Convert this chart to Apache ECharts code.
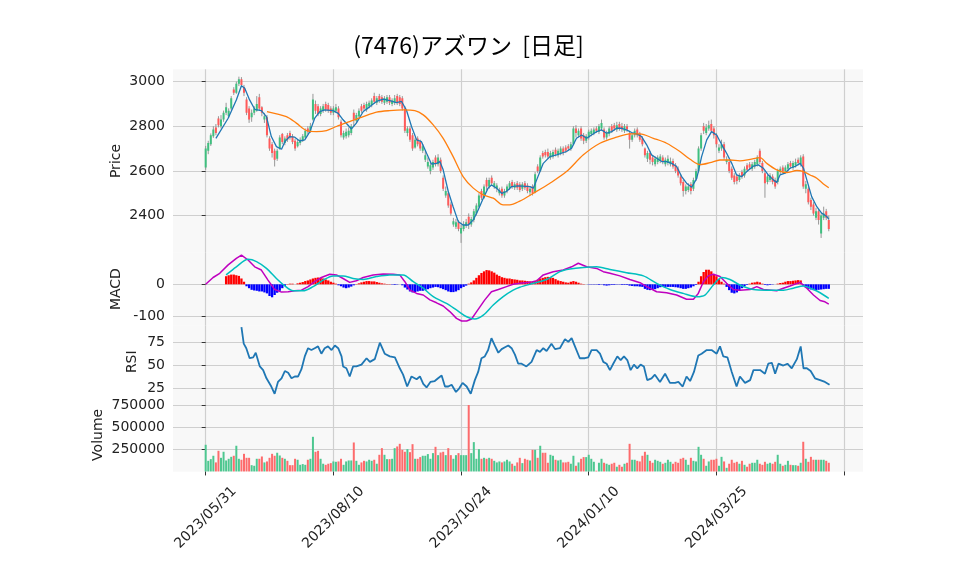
<!DOCTYPE html>
<html><head><meta charset="utf-8">
<script src="https://cdn.jsdelivr.net/npm/echarts@6/dist/echarts.min.js"></script>
<style>html,body{margin:0;padding:0;background:#fff}#c{width:958px;height:575px}</style>
</head><body><div id="c"></div>
<script>
// ---- data ----
const titleText = '(7476)アズワン  [日足]';
const tickPos = [0, 50, 100, 150, 200, 250];
const tickLabels = ['2023/05/31', '2023/08/10', '2023/10/24', '2024/01/10', '2024/03/25', ''];

const opens = [
2615,2690,2720,2755,2795,2835,2800,2830,2860,2845,
2880,2965,2950,2990,3010,2975,2920,2880,2840,2860,
2870,2930,2885,2830,2840,2745,2720,2690,2655,2700,
2765,2725,2760,2770,2755,2735,2710,2725,2735,2750,
2790,2780,2830,2900,2890,2855,2870,2900,2895,2880,
2860,2870,2880,2820,2750,2755,2760,2770,2860,2825,
2845,2890,2895,2875,2890,2895,2935,2905,2935,2930,
2905,2910,2930,2900,2905,2935,2930,2925,2880,2770,
2790,2760,2705,2745,2730,2690,2650,2620,2600,2615,
2660,2630,2650,2570,2490,2500,2450,2360,2350,2370,
2320,2340,2355,2395,2360,2380,2410,2440,2510,2480,
2560,2530,2570,2530,2520,2500,2520,2490,2510,2525,
2550,2525,2545,2540,2520,2545,2535,2505,2530,2505,
2620,2600,2680,2685,2685,2660,2665,2695,2670,2680,
2700,2705,2710,2700,2720,2790,2760,2790,2760,2735,
2750,2765,2770,2790,2775,2790,2785,2750,2765,2800,
2805,2785,2810,2800,2780,2800,2770,2740,2760,2785,
2765,2745,2700,2655,2680,2660,2630,2640,2645,2660,
2630,2635,2630,2645,2625,2610,2575,2550,2510,2515,
2540,2520,2565,2600,2700,2800,2770,2790,2810,2790,
2760,2690,2700,2720,2640,2640,2610,2580,2575,2560,
2595,2580,2625,2630,2610,2620,2630,2690,2635,2590,
2550,2560,2575,2560,2550,2595,2615,2600,2610,2635,
2615,2625,2650,2630,2665,2520,2520,2470,2450,2390,
2420,2320,2390,2420,2380];
const closes = [
2700,2725,2760,2785,2770,2805,2830,2860,2885,2870,
2925,2950,2990,3010,2985,2950,2860,2830,2860,2880,
2900,2880,2860,2845,2760,2700,2680,2650,2690,2750,
2730,2745,2740,2750,2730,2700,2730,2740,2755,2780,
2775,2800,2920,2870,2855,2880,2890,2875,2870,2860,
2880,2885,2840,2760,2770,2775,2780,2800,2830,2850,
2870,2870,2880,2900,2905,2915,2910,2925,2915,2910,
2925,2930,2905,2915,2925,2905,2900,2880,2780,2790,
2740,2700,2740,2720,2700,2710,2670,2640,2625,2640,
2630,2660,2600,2520,2510,2445,2410,2375,2370,2340,
2345,2360,2370,2360,2385,2420,2445,2490,2480,2530,
2530,2560,2545,2545,2535,2515,2490,2510,2530,2545,
2530,2540,2525,2515,2540,2525,2510,2520,2500,2585,
2600,2660,2665,2670,2665,2680,2685,2675,2690,2700,
2680,2690,2700,2720,2790,2770,2780,2745,2735,2755,
2775,2780,2785,2780,2800,2815,2750,2770,2790,2780,
2790,2805,2790,2785,2800,2785,2740,2760,2780,2760,
2740,2720,2670,2680,2650,2640,2655,2660,2665,2640,
2650,2655,2645,2620,2600,2580,2545,2510,2530,2530,
2510,2560,2600,2700,2760,2780,2795,2805,2780,2760,
2720,2705,2720,2660,2650,2600,2570,2550,2555,2580,
2575,2610,2605,2615,2630,2640,2660,2640,2600,2545,
2575,2580,2550,2530,2600,2610,2600,2615,2630,2620,
2635,2640,2635,2660,2530,2540,2460,2440,2410,2420,
2380,2400,2410,2390,2340];
const lows = [
2605,2675,2712,2748,2760,2795,2790,2820,2850,2838,
2872,2940,2945,2980,2975,2935,2850,2815,2820,2850,
2865,2870,2845,2815,2750,2690,2660,2620,2645,2695,
2720,2715,2730,2740,2720,2690,2705,2715,2730,2745,
2765,2770,2825,2855,2845,2845,2860,2865,2860,2850,
2850,2860,2830,2750,2740,2745,2750,2760,2800,2815,
2840,2860,2870,2865,2880,2885,2900,2895,2905,2900,
2895,2900,2895,2890,2895,2895,2890,2870,2770,2755,
2730,2690,2700,2710,2690,2680,2640,2610,2585,2605,
2620,2620,2590,2510,2480,2435,2400,2350,2340,2330,
2278,2330,2345,2340,2350,2370,2400,2435,2470,2475,
2515,2520,2535,2520,2505,2490,2480,2480,2500,2515,
2520,2515,2515,2505,2510,2515,2500,2490,2490,2500,
2590,2595,2655,2660,2655,2650,2655,2665,2660,2670,
2670,2680,2690,2690,2715,2750,2750,2735,2720,2725,
2740,2755,2760,2770,2765,2780,2740,2740,2755,2770,
2780,2775,2780,2775,2770,2775,2700,2730,2750,2750,
2730,2710,2660,2640,2630,2625,2620,2630,2635,2630,
2620,2625,2620,2610,2590,2570,2535,2485,2495,2505,
2495,2510,2555,2590,2690,2765,2760,2780,2770,2745,
2705,2680,2690,2650,2630,2590,2560,2540,2540,2550,
2565,2570,2595,2605,2600,2610,2620,2630,2590,2480,
2540,2550,2540,2520,2540,2585,2590,2590,2600,2610,
2605,2615,2625,2620,2520,2500,2450,2425,2400,2380,
2360,2300,2380,2380,2330];
const highs = [
2712,2735,2768,2800,2810,2845,2850,2870,2905,2880,
2935,2975,3000,3022,3020,2985,2930,2890,2875,2890,
2935,2945,2890,2860,2850,2755,2730,2700,2700,2760,
2770,2755,2770,2780,2765,2745,2740,2750,2765,2790,
2800,2815,2945,2915,2900,2890,2900,2910,2905,2890,
2890,2900,2890,2830,2780,2790,2795,2810,2875,2860,
2880,2900,2905,2910,2915,2925,2950,2935,2945,2940,
2935,2940,2940,2925,2940,2945,2940,2935,2890,2800,
2800,2770,2750,2755,2740,2720,2690,2660,2640,2650,
2670,2675,2660,2580,2530,2510,2460,2390,2385,2380,
2360,2375,2385,2410,2395,2430,2455,2500,2520,2540,
2570,2570,2580,2555,2545,2525,2530,2520,2540,2555,
2560,2550,2555,2550,2550,2555,2545,2530,2540,2595,
2630,2670,2690,2695,2700,2690,2695,2705,2700,2710,
2710,2715,2720,2730,2800,2805,2790,2800,2770,2765,
2785,2790,2795,2800,2810,2830,2795,2780,2800,2810,
2815,2820,2820,2815,2810,2810,2780,2770,2790,2795,
2775,2755,2705,2690,2690,2670,2665,2670,2675,2670,
2660,2670,2660,2655,2635,2620,2585,2560,2540,2545,
2550,2570,2610,2710,2770,2815,2810,2825,2830,2800,
2770,2720,2740,2730,2665,2650,2620,2590,2585,2590,
2605,2620,2635,2640,2640,2650,2670,2700,2645,2600,
2585,2590,2585,2570,2610,2620,2625,2625,2640,2645,
2645,2655,2660,2670,2675,2555,2530,2480,2460,2435,
2430,2410,2440,2430,2400];
const volumes = [
301000,120000,139000,177000,102000,233000,154000,222000,124000,143000,
165000,177000,290000,143000,132000,199000,154000,154000,71000,64000,
143000,143000,169000,102000,113000,154000,199000,177000,211000,180000,
154000,143000,120000,71000,71000,143000,132000,75000,83000,75000,
132000,143000,391000,222000,233000,143000,87000,75000,87000,94000,
113000,109000,113000,143000,75000,113000,124000,124000,327000,120000,
75000,102000,120000,113000,132000,120000,132000,87000,188000,263000,
188000,139000,139000,143000,263000,282000,312000,244000,222000,252000,
218000,308000,143000,143000,162000,177000,177000,196000,143000,207000,
278000,184000,214000,222000,184000,263000,184000,143000,184000,207000,
184000,184000,184000,750000,207000,331000,143000,252000,143000,154000,
143000,154000,143000,120000,102000,113000,102000,113000,132000,113000,
87000,64000,102000,154000,94000,143000,132000,124000,244000,244000,
154000,290000,211000,211000,98000,188000,177000,132000,124000,132000,
102000,102000,109000,87000,177000,64000,102000,143000,162000,162000,
188000,143000,109000,8000,98000,143000,98000,87000,75000,87000,
98000,53000,75000,53000,87000,98000,312000,132000,132000,120000,
113000,177000,222000,188000,120000,98000,132000,120000,109000,87000,
98000,132000,109000,87000,109000,98000,143000,154000,132000,75000,
154000,120000,113000,278000,188000,143000,64000,113000,132000,132000,
143000,64000,165000,113000,41000,87000,132000,98000,109000,87000,
120000,75000,53000,87000,98000,98000,132000,87000,75000,109000,
87000,98000,87000,109000,188000,87000,64000,75000,120000,75000,
71000,71000,64000,98000,335000,143000,109000,165000,132000,132000,
132000,132000,132000,120000,98000];

// moving averages: [index, value]
const ma5 = [[4,2746],[8.8,2836],[12,2918],[14,2981],[15.3,2970],[17.2,2918],[19.2,2876],[21.8,2870],[23.8,2843],[25.7,2754],[27.7,2709],[29.7,2697],[31,2731],[32.9,2754],[34.9,2751],[36.8,2734],[38.8,2739],[40.8,2776],[42.7,2836],[44.7,2866],[46.6,2873],[49.9,2870],[51.9,2858],[53.8,2829],[57.1,2788],[59,2814],[61.7,2866],[64.3,2888],[66.9,2911],[69.5,2921],[72.1,2915],[74.7,2906],[76.7,2911],[78.6,2873],[80.6,2799],[82.6,2739],[84.5,2731],[86.5,2679],[88.4,2631],[90.4,2634],[91.7,2642],[93,2605],[95,2508],[96.9,2440],[98.9,2373],[100.8,2358],[102.8,2358],[104.8,2381],[106.7,2425],[108.7,2478],[110.6,2523],[111.9,2537],[113.9,2523],[115.9,2500],[117.8,2508],[119.8,2530],[122.4,2533],[127,2530],[128.3,2523],[129.6,2560],[132.2,2634],[134.8,2664],[137.4,2672],[141.3,2687],[143.3,2702],[145.2,2746],[147.2,2761],[149.2,2746],[151.1,2761],[153.1,2776],[155,2784],[157,2769],[159,2776],[160.9,2791],[162.9,2791],[164.8,2784],[166.8,2772],[168.8,2766],[170.7,2754],[172.7,2717],[174.6,2672],[176.6,2657],[178.6,2642],[180.5,2642],[182.5,2634],[184.4,2620],[186.4,2575],[188.3,2545],[190.3,2527],[192.3,2567],[194.2,2664],[196.2,2739],[198.1,2776],[200.1,2761],[202.1,2717],[204,2679],[206,2634],[207.9,2582],[209.9,2575],[211.9,2597],[214.5,2622],[216.4,2627],[218.4,2612],[220.3,2582],[222.3,2560],[223.6,2548],[224.9,2582],[226.9,2590],[228.8,2612],[230.8,2620],[232.8,2634],[234.1,2612],[235.4,2560],[237.3,2485],[239.3,2440],[241.2,2411],[243.2,2396],[244,2384]];
const ma25 = [[24,2866],[31.6,2843],[35.5,2814],[39.5,2781],[43.4,2776],[47.3,2781],[51.2,2799],[56.4,2821],[61.7,2843],[66.9,2863],[72.1,2870],[77.3,2873],[81.9,2870],[85.2,2851],[89.1,2806],[93,2746],[96.9,2664],[100.8,2575],[104.8,2523],[108.7,2493],[112.6,2478],[116.5,2448],[119,2448],[123,2465],[128.3,2500],[134.8,2545],[141.3,2597],[147.9,2672],[154.4,2724],[160.9,2751],[166.1,2766],[170.1,2766],[175.3,2746],[180.5,2724],[185.7,2687],[189.7,2652],[193.6,2628],[197.5,2637],[201.4,2649],[205.3,2649],[209.2,2645],[213.2,2652],[217.1,2660],[219.7,2634],[223.6,2605],[227.5,2593],[231.5,2602],[234.1,2597],[236.7,2582],[239.3,2567],[241.9,2542],[244,2525]];

// MACD panel
const macdLine = [[0,0],[2.9,21],[5.5,34],[8.8,60],[12,80],[14,90],[16.6,75],[19.2,54],[21.8,44],[24.4,13],[27,-16],[29.7,-24],[32.3,-23],[34.9,-20],[37.5,-18],[40.1,-7],[42.7,8],[45.3,21],[48.6,31],[51.2,29],[53.8,18],[56.4,6],[59,11],[61.7,21],[65.6,29],[69.5,32],[73.4,31],[76,29],[78,8],[80,-18],[82.6,-28],[85.2,-33],[87.8,-48],[90.4,-57],[93,-67],[95.6,-84],[98.2,-105],[100.2,-113],[102.2,-113],[104.1,-107],[106.1,-84],[109.3,-48],[111.9,-23],[114.6,-16],[117.8,-7],[120.4,0],[123,3],[127,6],[129.6,11],[132.2,29],[136.1,39],[140,44],[143.3,54],[145.9,65],[149.2,54],[153.1,49],[155.7,39],[158.3,34],[162.2,26],[166.1,15],[170.1,5],[172.7,-7],[176.6,-23],[180.5,-26],[184.4,-33],[188.3,-46],[191,-46],[192.9,-28],[194.9,8],[196.8,26],[198.8,31],[201.4,24],[204,3],[206.6,-16],[209.2,-18],[213.2,-16],[215.8,-7],[218.4,-16],[223.6,-20],[226.2,-12],[228.8,-5],[232.8,6],[235.4,-12],[238,-33],[240.6,-50],[242.5,-54],[244,-61]];
const signalLine = [[8,29],[12,54],[16.6,77],[19.9,70],[23.8,49],[27.7,18],[31,-5],[34.2,-20],[38.1,-20],[42.1,-7],[46,13],[49.9,26],[53.8,26],[57.7,18],[61.7,15],[66.9,24],[72.1,29],[77.3,29],[81.3,8],[85.2,-12],[89.1,-38],[94.3,-59],[98.2,-79],[102.2,-100],[105.4,-107],[108.7,-95],[112.6,-64],[116.5,-38],[120.4,-18],[123,-9],[128.3,3],[133.5,15],[138.7,39],[142.6,47],[147.9,52],[153.1,54],[158.3,46],[164.8,36],[171.4,26],[176.6,3],[181.8,-16],[187,-28],[192.3,-38],[195.5,-33],[198.8,-2],[202.1,21],[205.3,15],[209.2,-2],[214.5,-16],[219.7,-18],[226.2,-18],[230.1,-12],[234.1,-5],[238,-16],[240.6,-26],[244,-43]];
const histStart = 8;
const macdHist = [
25,28,30,30,28,26,18,8,
-6,-12,-17,-19,-20,-22,-22,-25,-28,-36,-40,-33,-26,-20,-12,-5,
1,2,2,0,3,5,7,10,12,15,18,20,21,20,18,15,12,8,5,2,
-3,-6,-10,-12,-10,-7,-3,
1,3,6,8,10,10,9,9,7,5,3,2,1,1,
-1,-2,-1,0,-3,
-10,-16,-22,-25,-24,-22,-20,-20,-18,-15,-12,-10,-8,-9,-12,-15,-18,-22,-24,-24,-22,-18,-12,-8,-4,
2,6,12,20,28,35,40,44,43,40,36,30,26,22,20,18,18,16,15,14,12,
12,11,10,9,8,10,14,18,20,22,23,22,20,16,12,10,8,6,5,8,10,8,5,2,1,
0,-1,-1,-1,-1,-2,-1,-3,-4,-3,-2,-2,-1,-1,-2,-2,-2,-4,-5,-6,-6,-7,-8,-14,-17,-18,-17,-15,-12,-9,-8,-8,-8,-8,-8,-9,-10,-12,-14,-14,-12,-10,-6,-2,
8,25,38,45,45,40,32,25,16,8,2,
-8,-18,-26,-28,-25,-20,-12,
-6,-2,2,5,6,8,6,2,-2,-3,-2,-1,0,2,4,5,8,10,10,11,12,13,12,
-4,-10,-14,-16,-18,-18,-17,-16,-15,-14,-14];

// RSI panel
const rsi = [[14,92],[14.9,74],[15.9,69],[17.2,58],[18.6,59],[19.6,64],[20.3,63],[21.2,49],[22.5,45],[23.8,36],[25.7,27],[27,19],[28.3,32],[29.7,36],[31,44],[32.3,42],[33.6,36],[34.9,38],[36.2,38],[37.5,46],[38.8,60],[40.1,69],[41.4,67],[42.7,69],[44,71],[45.3,63],[46.6,69],[47.9,71],[49.3,67],[50.6,72],[51.9,69],[53.2,60],[53.8,49],[55.1,47],[56.4,38],[57.7,49],[59,49],[61,51],[63,58],[64.3,54],[66.2,57],[68.2,75],[70.1,63],[72.1,60],[74.1,59],[76,47],[77.3,40],[78.9,27],[80.6,38],[82.6,35],[83.9,38],[85.2,30],[86.5,26],[88,32],[89.7,33],[91,36],[92.4,39],[93.7,27],[95,27],[96.3,29],[98,21],[99.3,25],[100.6,31],[102.2,27],[103.8,19],[105.4,34],[106.7,43],[108,58],[109.3,60],[110.6,67],[111.9,80],[113.2,72],[114.6,64],[115.9,68],[117.2,70],[118.5,72],[119.8,69],[121.1,62],[122.4,52],[123.7,52],[125.6,49],[127.6,54],[129.6,67],[130.9,65],[132.2,69],[133.5,66],[135.4,74],[136.8,68],[138.7,69],[140.7,79],[142,76],[143.3,80],[144.6,71],[146.5,58],[148.5,58],[149.8,59],[151.1,67],[153.1,67],[154.4,63],[155.7,54],[157,52],[158.3,45],[159.6,52],[161.2,60],[162.5,56],[163.8,60],[165.1,56],[166.4,45],[167.7,51],[169,47],[170.3,51],[171.6,49],[172.9,34],[174.6,36],[175.9,40],[177.9,32],[179.9,41],[181.8,31],[183.8,31],[185.1,32],[186.8,27],[188.3,38],[189.7,33],[191.2,43],[192.9,61],[194.2,63],[196.2,67],[198.1,67],[200.1,63],[201.4,71],[202.7,60],[204.3,59],[206,43],[207.9,27],[209.2,38],[211.2,31],[213.2,34],[214.5,45],[217.1,45],[219,41],[220.3,52],[221.7,53],[223,41],[224.3,52],[226.2,50],[227.8,52],[229.5,47],[231.5,57],[233,71],[234.1,47],[235.4,47],[236.9,44],[238.6,36],[240.6,34],[242.5,32],[244.3,29]];

const priceTicks = [2400, 2600, 2800, 3000];
const macdTicks = [-100, 0];
const rsiTicks = [25, 50, 75];
const volTicks = [250000, 500000, 750000];

// ---- styling ----
const FONT = 'DejaVu Sans';
const UP = '#3fbf7f', DOWN = '#ff5a5a', WICK = '#8c8c8c';
const VUP = '#4dc790', VDOWN = '#fd6b6c';
const GRIDC = '#cfcfcf', BG = '#f8f8f8', TXT = '#222';
const L = 173, W = 690;
const XMIN = -12.8, XMAX = 257.4;

const candleData = opens.map((o, i) => [i, o, closes[i], lows[i], highs[i]]);
const volData = volumes.map((v, i) => [i, v]);
const histData = macdHist.map((v, k) => [histStart + k, v]);

function xAx(gi, bottom) {
  return {
    type: 'value', gridIndex: gi, min: XMIN, max: XMAX,
    axisLine: {show: false},
    axisTick: {show: bottom, customValues: tickPos, length: 4, lineStyle: {color: '#333'}},
    axisLabel: bottom ? {
      show: true, customValues: tickPos, rotate: 45, align: 'center', verticalAlign: 'middle',
      margin: 46, fontFamily: FONT, fontSize: 14, color: TXT,
      formatter: v => { const k = tickPos.indexOf(Math.round(v)); return k >= 0 ? tickLabels[k] : ''; }
    } : {show: false},
    splitLine: {show: true, lineStyle: {color: GRIDC, width: 1.2}}
  };
}
function yAx(gi, min, max, ticks, name, gap) {
  return {
    type: 'value', gridIndex: gi, min, max,
    axisLine: {show: false},
    axisTick: {show: true, customValues: ticks, length: 4, lineStyle: {color: '#333'}},
    axisLabel: {customValues: ticks, fontFamily: FONT, fontSize: 14, color: TXT, margin: 8,
                formatter: v => String(Math.round(v))},
    splitLine: {show: true, lineStyle: {color: GRIDC, width: 1.2}},
    name, nameLocation: 'middle', nameGap: gap, nameRotate: 90, nameMoveOverlap: false,
    nameTextStyle: {fontFamily: FONT, fontSize: 14, color: TXT}
  };
}

const gridBase = {left: L, width: W, show: true, backgroundColor: BG, borderWidth: 0};

const option = {
  animation: false,
  backgroundColor: '#ffffff',
  graphic: [{
    type: 'text', x: 468.5, y: 45,
    style: {text: titleText, align: 'center', verticalAlign: 'middle',
            font: '23px "Noto Sans CJK JP"', fill: '#000'}
  }],
  grid: [
    Object.assign({top: 69.3, height: 183.4}, gridBase),
    Object.assign({top: 252.7, height: 72.8}, gridBase),
    Object.assign({top: 325.5, height: 72.5}, gridBase),
    Object.assign({top: 398, height: 73.7}, gridBase)
  ],
  xAxis: [xAx(0, false), xAx(1, false), xAx(2, false), xAx(3, true)],
  yAxis: [
    yAx(0, 2234, 3055, priceTicks, 'Price', 50),
    yAx(1, -127, 97.5, macdTicks, 'MACD', 50),
    yAx(2, 14.4, 93.9, rsiTicks, 'RSI', 34),
    yAx(3, -2800, 829000, volTicks, 'Volume', 68)
  ],
  series: [
    {
      type: 'custom', xAxisIndex: 0, yAxisIndex: 0, data: candleData,
      encode: {x: 0, y: [1, 2, 3, 4]}, clip: true,
      renderItem: function (params, api) {
        const i = api.value(0), o = api.value(1), c = api.value(2), lo = api.value(3), hi = api.value(4);
        const pH = api.coord([i, hi]), pL = api.coord([i, lo]);
        const pO = api.coord([i, o]), pC = api.coord([i, c]);
        const w = 2;
        const top = Math.min(pO[1], pC[1]);
        const ht = Math.max(Math.abs(pO[1] - pC[1]), 0.8);
        return {type: 'group', children: [
          {type: 'line', shape: {x1: pH[0], y1: pH[1], x2: pL[0], y2: pL[1]},
           style: {stroke: WICK, lineWidth: 0.9}},
          {type: 'rect', shape: {x: pO[0] - w / 2, y: top, width: w, height: ht},
           style: {fill: c >= o ? UP : DOWN}}
        ]};
      }
    },
    {type: 'line', xAxisIndex: 0, yAxisIndex: 0, data: ma5, showSymbol: false, symbol: 'none',
     lineStyle: {color: '#1f77b4', width: 1.3}, z: 5},
    {type: 'line', xAxisIndex: 0, yAxisIndex: 0, data: ma25, showSymbol: false, symbol: 'none',
     smooth: 0.3, lineStyle: {color: '#ff7f0e', width: 1.3}, z: 5},
    {type: 'bar', xAxisIndex: 1, yAxisIndex: 1, data: histData, barWidth: 2.3,
     itemStyle: {color: p => p.value[1] >= 0 ? '#ff0000' : '#0000ff'}},
    {type: 'line', xAxisIndex: 1, yAxisIndex: 1, data: macdLine, symbol: 'none',
     lineStyle: {color: '#bf00bf', width: 1.5}, z: 5},
    {type: 'line', xAxisIndex: 1, yAxisIndex: 1, data: signalLine, symbol: 'none', smooth: 0.3,
     lineStyle: {color: '#00bfbf', width: 1.5}, z: 5},
    {type: 'line', xAxisIndex: 2, yAxisIndex: 2, data: rsi, symbol: 'none',
     lineStyle: {color: '#1f77b4', width: 1.8}},
    {type: 'bar', xAxisIndex: 3, yAxisIndex: 3, data: volData, barWidth: 2,
     itemStyle: {color: p => closes[p.dataIndex] >= opens[p.dataIndex] ? VUP : VDOWN}}
  ]
};
const chart = echarts.init(document.getElementById('c'));
chart.setOption(option);
</script>
</body></html>
